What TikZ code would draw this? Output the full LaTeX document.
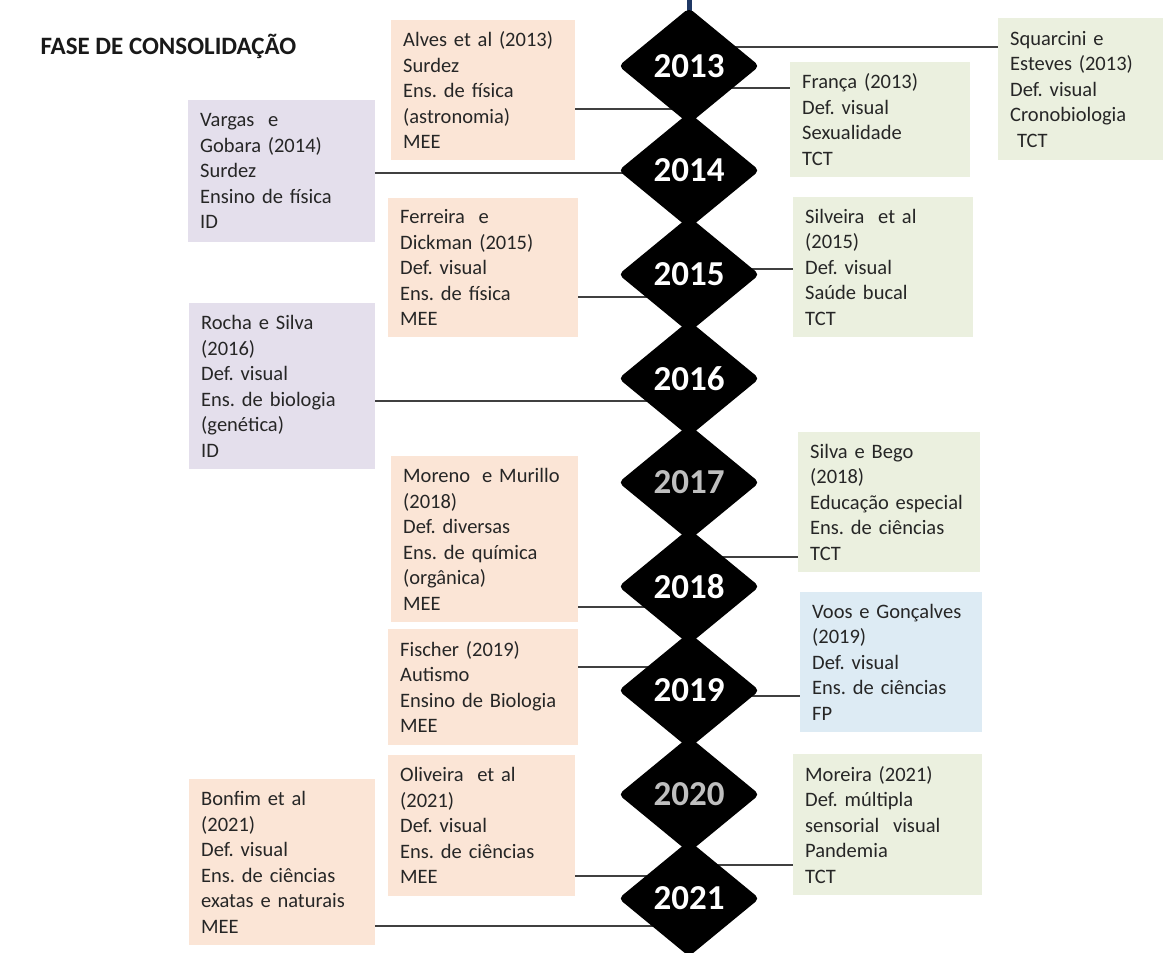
\documentclass[tikz,border=0pt]{standalone}
\usepackage{fontspec}
\setmainfont{Carlito}
\usetikzlibrary{shapes.geometric,backgrounds}
\definecolor{peach}{HTML}{FBE5D6}
\definecolor{lav}{HTML}{E4DFEC}
\definecolor{grn}{HTML}{EBF0DF}
\definecolor{blu}{HTML}{DDEBF4}
\definecolor{txt}{HTML}{262626}
\definecolor{lin}{HTML}{404040}
\definecolor{navy}{HTML}{1F3864}
\definecolor{yrgray}{HTML}{BFBFBF}
\frenchspacing
\tikzset{
  x=1pt,y=-1pt,
  card/.style={anchor=north west, align=left, inner xsep=12pt, inner ysep=0pt,
    font=\fontsize{20.5}{25.5}\selectfont, text=txt},
  peachcard/.style={card, fill=peach},
  lavcard/.style={card, fill=lav},
  grncard/.style={card, fill=grn},
  blucard/.style={card, fill=blu},
  yr/.style={diamond, fill=black, rounded corners=5pt, minimum width=141pt,
    minimum height=116pt, aspect=1.22, inner sep=0pt, text=white,
    font=\fontsize{35}{40}\selectfont\bfseries},
  yrdim/.style={yr, text=yrgray},
  conn/.style={draw=lin, line width=1.3pt},
}
\begin{document}
\begin{tikzpicture}
\useasboundingbox (0,0) rectangle (1165,953);
\node[anchor=base west, font=\fontsize{25}{30}\selectfont\bfseries, text=black!90] (title) at (37,54) {FASE DE CONSOLIDAÇÃO};

% diamonds
\node[yr] (d2013) at (689,66) {2013};
\node[yr] (d2014) at (689,170.5) {2014};
\node[yr] (d2015) at (689,274.5) {2015};
\node[yr] (d2016) at (689,378.5) {2016};
\node[yrdim] (d2017) at (689,482.5) {2017};
\node[yr] (d2018) at (689,586.5) {2018};
\node[yr] (d2019) at (689,690.5) {2019};
\node[yrdim] (d2020) at (689,794.5) {2020};
\node[yr] (d2021) at (689,898.5) {2021};

% cards
\node[peachcard, text width=160pt, minimum height=140pt] (alves) at (391,20)
  {Alves et al (2013)\\Surdez\\Ens. de física\\(astronomia)\\MEE};
\node[grncard, text width=141pt, minimum height=142pt] (squarcini) at (998,18)
  {Squarcini e\\Esteves (2013)\\Def. visual\\Cronobiologia\\\ TCT};
\node[grncard, text width=156pt, minimum height=115pt] (franca) at (790,62)
  {França (2013)\\Def. visual\\Sexualidade\\TCT};
\node[lavcard, text width=163pt, minimum height=142pt] (vargas) at (188,100)
  {Vargas\ \ e\\Gobara (2014)\\Surdez\\Ensino de física\\ID};
\node[peachcard, text width=166pt, minimum height=139pt] (ferreira) at (388,198)
  {Ferreira\ \ e\\Dickman (2015)\\Def. visual\\Ens. de física\\MEE};
\node[grncard, text width=156pt, minimum height=140pt] (silveira) at (793,197)
  {Silveira\ \ et al\\(2015)\\Def. visual\\Saúde bucal\\TCT};
\node[lavcard, text width=162pt, minimum height=166pt] (rocha) at (189,303)
  {Rocha e Silva\\(2016)\\Def. visual\\Ens. de biologia\\(genética)\\ID};
\node[peachcard, text width=163pt, minimum height=166pt] (moreno) at (391,456)
  {\mbox{Moreno\hspace{12pt}e Murillo}\\(2018)\\Def. diversas\\Ens. de química\\(orgânica)\\MEE};
\node[grncard, text width=158pt, minimum height=140pt] (silva) at (798,432)
  {Silva e Bego\\(2018)\\Educação especial\\Ens. de ciências\\TCT};
\node[blucard, text width=158pt, minimum height=140pt] (voos) at (800,592)
  {Voos e Gonçalves\\(2019)\\Def. visual\\Ens. de ciências\\FP};
\node[peachcard, text width=166pt, minimum height=116pt] (fischer) at (388,629)
  {Fischer (2019)\\Autismo\\Ensino de Biologia\\MEE};
\node[peachcard, text width=163pt, minimum height=141pt] (oliveira) at (388,755)
  {Oliveira\ \ et al\\(2021)\\Def. visual\\Ens. de ciências\\MEE};
\node[peachcard, text width=162pt, minimum height=166pt] (bonfim) at (189,779)
  {Bonfim et al\\(2021)\\Def. visual\\Ens. de ciências\\exatas e naturais\\MEE};
\node[grncard, text width=165pt, minimum height=141pt] (moreira) at (793,754)
  {Moreira (2021)\\Def. múltipla\\sensorial\ \ visual\\Pandemia\\TCT};

\coordinate (topend) at (689,0);

\begin{pgfonlayer}{background}
\draw[draw=navy, line width=5pt] (topend) -- (d2013.center);
\draw[conn] (d2013.center |- 0,47) -- (squarcini.west |- 0,47);
\draw[conn] (d2013.center |- 0,88) -- (franca.west |- 0,88);
\draw[conn] (alves.east |- 0,109) -- (d2013.center |- 0,109);
\draw[conn] (vargas.east |- 0,173) -- (d2014.center |- 0,173);
\draw[conn] (d2015.center |- 0,269) -- (silveira.west |- 0,269);
\draw[conn] (ferreira.east |- 0,297) -- (d2015.center |- 0,297);
\draw[conn] (rocha.east |- 0,401) -- (d2016.center |- 0,401);
\draw[conn] (d2018.center |- 0,557) -- (silva.west |- 0,557);
\draw[conn] (moreno.east |- 0,607) -- (d2018.center |- 0,607);
\draw[conn] (fischer.east |- 0,667) -- (d2019.center |- 0,667);
\draw[conn] (d2019.center |- 0,696) -- (voos.west |- 0,696);
\draw[conn] (d2021.center |- 0,865) -- (moreira.west |- 0,865);
\draw[conn] (oliveira.east |- 0,876) -- (d2021.center |- 0,876);
\draw[conn] (bonfim.east |- 0,926) -- (d2021.center |- 0,926);
\end{pgfonlayer}
\end{tikzpicture}
\end{document}
